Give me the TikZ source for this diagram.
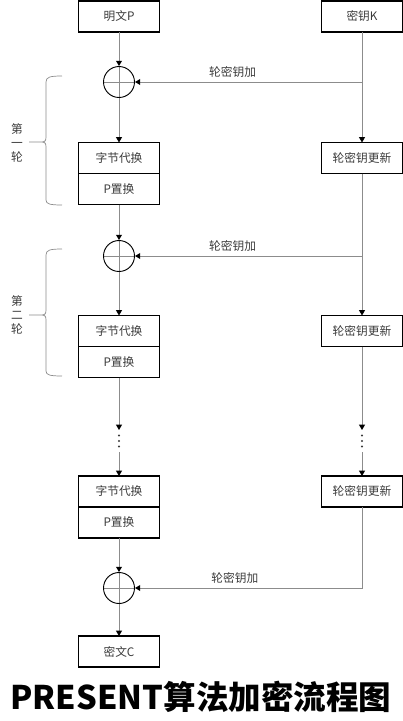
\documentclass[tikz,border=0pt]{standalone}
\usepackage{fontspec}
\setmainfont{Noto Sans CJK SC}
\usetikzlibrary{arrows.meta,calc,positioning}
\definecolor{Ink}{HTML}{3A3A3A}
\definecolor{Wire}{HTML}{8C8C8C}

\begin{document}
\begin{tikzpicture}[x=0.03cm, y=-0.03cm, >={Triangle[length=4.5pt,width=5pt,black]}, node distance=0pt,
    box/.style={draw=black, line width=0.9pt, minimum width=2.43cm, minimum height=0.93cm, inner sep=0pt, outer sep=0pt, font=\fontsize{10}{12}\selectfont, text=Ink},
    xorop/.style={draw=black, line width=0.8pt, circle, minimum size=0.93cm, inner sep=0pt, path picture={\draw[Wire, line width=0.6pt] (path picture bounding box.north) -- (path picture bounding box.south) (path picture bounding box.west) -- (path picture bounding box.east);}},
    wire/.style={draw=Wire, line width=0.7pt},
    keylabel/.style={above, font=\fontsize{10}{12}\selectfont, text=Ink, pos=0.57},
    roundbrace/.style={draw=Wire, line width=0.6pt},
    roundlabel/.style={align=center, inner sep=0pt, font=\fontsize{10}{12}\selectfont, text=Ink},
    gapdot/.style={fill=Ink}]
    \useasboundingbox (0,0) rectangle (403,721);

    \node[box] (plain) at (119,16.5) {明文P};
    \node[box] (key) at (362,16.5) {密钥K};
    \node[xorop] (xor1) at (119,82) {};
    \node[box] (sub1) at (119,158) {字节代换};
    \node[box, below=of sub1] (perm1) {P置换};
    \node[box] (upd1) at (362,158) {轮密钥更新};
    \node[xorop] (xor2) at (119,256) {};
    \node[box] (sub2) at (119,331) {字节代换};
    \node[box, below=of sub2] (perm2) {P置换};
    \node[box] (upd2) at (362,331) {轮密钥更新};
    \node[box] (sub3) at (119,491.5) {字节代换};
    \node[box, below=of sub3] (perm3) {P置换};
    \node[box] (upd3) at (362,491.5) {轮密钥更新};
    \node[xorop] (xor3) at (119,588) {};
    \node[box] (cipher) at (119,651.5) {密文C};

    \coordinate (gapL1) at (119,430);
    \coordinate (gapL2) at (119,452);
    \coordinate (gapR1) at (362,430);
    \coordinate (gapR2) at (362,452);
    \fill[gapdot] (119,435.5) circle (0.9pt) (119,441) circle (0.9pt) (119,446.5) circle (0.9pt);
    \fill[gapdot] (362,435.5) circle (0.9pt) (362,441) circle (0.9pt) (362,446.5) circle (0.9pt);

    \draw[wire,->] (plain) -- (xor1);
    \draw[wire,->] (xor1) -- (sub1);
    \draw[wire,->] (perm1) -- (xor2);
    \draw[wire,->] (xor2) -- (sub2);
    \draw[wire,->] (perm2) -- (gapL1);
    \draw[wire,->] (gapL2) -- (sub3);
    \draw[wire,->] (perm3) -- (xor3);
    \draw[wire,->] (xor3) -- (cipher);

    \coordinate (tap1) at (key.south |- xor1);
    \coordinate (tap2) at (upd1.south |- xor2);
    \draw[wire,->] (key) -- (upd1);
    \draw[wire,->] (tap1) -- node[keylabel] {轮密钥加} (xor1);
    \draw[wire,->] (upd1) -- (upd2);
    \draw[wire,->] (tap2) -- node[keylabel] {轮密钥加} (xor2);
    \draw[wire,->] (upd2) -- (gapR1);
    \draw[wire,->] (gapR2) -- (upd3);
    \draw[wire,->] (upd3) |- node[keylabel, pos=0.78] {轮密钥加} (xor3);

    \draw[roundbrace] (62,76) .. controls (50,76) and (46,77) .. (46,82) -- (46,137) .. controls (46,141) and (45,142) .. (41,142) -- (29,142)
        (41,142) .. controls (45,142) and (46,143) .. (46,147) -- (46,200) .. controls (46,204) and (50,205) .. (62,205);
    \node[roundlabel] (round1) at (17,143) {第\\一\\轮};
    \draw[roundbrace] (62,249) .. controls (50,249) and (46,250) .. (46,255) -- (46,310) .. controls (46,314) and (45,315) .. (41,315) -- (29,315)
        (41,315) .. controls (45,315) and (46,316) .. (46,320) -- (46,371) .. controls (46,375) and (50,376) .. (62,376);
    \node[roundlabel] (round2) at (17,315) {第\\二\\轮};

    \node[font=\fontsize{27.8}{30}\selectfont\bfseries, text=black] (title) at (201,697) {PRESENT算法加密流程图};
\end{tikzpicture}
\end{document}
